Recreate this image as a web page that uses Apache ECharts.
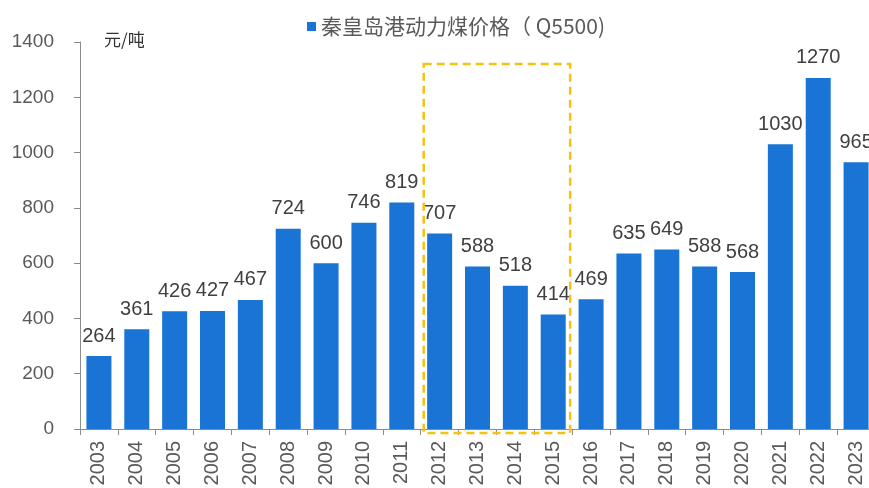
<!DOCTYPE html>
<html>
<head>
<meta charset="utf-8">
<script src="https://cdn.jsdelivr.net/npm/echarts@6/dist/echarts.min.js"></script>
<style>
  html, body { margin: 0; padding: 0; background: #fff; }
  #chart { width: 869px; height: 488px; }
</style>
</head>
<body>
<div id="chart"></div>
<script>
// 秦皇岛港动力煤年度价格（Q5500），单位：元/吨
const years = ['2003', '2004', '2005', '2006', '2007', '2008', '2009', '2010', '2011', '2012', '2013',
  '2014', '2015', '2016', '2017', '2018', '2019', '2020', '2021', '2022', '2023'];
const prices = [264, 361, 426, 427, 467, 724, 600, 746, 819, 707, 588,
  518, 414, 469, 635, 649, 588, 568, 1030, 1270, 965];
const yTicks = [0, 200, 400, 600, 800, 1000, 1200, 1400];
const seriesName = '秦皇岛港动力煤价格（ Q5500)';
const unitLabel = '元/吨';
// 虚线框标注的年份区间
const highlightRange = ['2012', '2015'];
const highlightTop = 1320;

const chart = echarts.init(document.getElementById('chart'), null, { renderer: 'canvas' });

const axisColor = '#8c8c8c';
const labelColor = '#595959';

chart.setOption({
  animation: false,
  backgroundColor: '#fff',
  // 绘图区略超出画布右侧，最后一根柱子被截断
  grid: { left: 80, width: 795, top: 42, bottom: 59, containLabel: false, outerBoundsMode: 'none' },
  legend: {
    data: [seriesName],
    left: 302,
    top: 11,
    icon: 'rect',
    itemWidth: 9,
    itemHeight: 9,
    textStyle: { fontFamily: 'Noto Sans CJK SC', fontSize: 21, color: labelColor }
  },
  xAxis: {
    type: 'category',
    data: years,
    axisLine: { lineStyle: { color: axisColor, width: 1 } },
    axisTick: { show: true, length: 6, lineStyle: { color: axisColor } },
    axisLabel: {
      rotate: 90,
      interval: 0,
      margin: 12,
      fontFamily: 'Liberation Sans',
      fontSize: 20,
      color: labelColor
    }
  },
  yAxis: {
    type: 'value',
    min: yTicks[0],
    max: yTicks[yTicks.length - 1],
    interval: yTicks[1] - yTicks[0],
    splitLine: { show: false },
    axisLine: { show: true, lineStyle: { color: axisColor, width: 1 } },
    axisTick: { show: true, length: 6, lineStyle: { color: axisColor } },
    axisLabel: {
      margin: 26,
      formatter: v => String(v),
      fontFamily: 'Liberation Sans',
      fontSize: 19,
      color: labelColor
    }
  },
  series: [{
    name: seriesName,
    type: 'bar',
    data: prices,
    barWidth: 25,
    itemStyle: { color: '#1a74d5' },
    label: {
      show: true,
      position: 'top',
      distance: 10,
      fontFamily: 'Liberation Sans',
      fontSize: 20,
      color: '#404040'
    }
  }]
});

// 单位文字与虚线框按坐标轴换算位置
function drawOverlay() {
  const x0 = chart.convertToPixel({ xAxisIndex: 0 }, highlightRange[0]);
  const x1 = chart.convertToPixel({ xAxisIndex: 0 }, highlightRange[1]);
  const step = chart.convertToPixel({ xAxisIndex: 0 }, years[1]) - chart.convertToPixel({ xAxisIndex: 0 }, years[0]);
  const yTop = chart.convertToPixel({ yAxisIndex: 0 }, highlightTop);
  const yBase = chart.convertToPixel({ yAxisIndex: 0 }, 0);
  const yMax = chart.convertToPixel({ yAxisIndex: 0 }, yTicks[yTicks.length - 1]);
  const xAxisLeft = chart.convertToPixel({ xAxisIndex: 0 }, years[0]) - step / 2;
  const left = x0 - step / 2 + 3;
  const right = x1 + step / 2 - 2;
  chart.setOption({
    graphic: [
      {
        type: 'rect',
        shape: { x: left, y: yTop, width: right - left, height: yBase + 4 - yTop },
        style: { fill: 'none', stroke: '#f5c211', lineWidth: 2.5, lineDash: [8, 5] },
        z: 10
      },
      {
        type: 'text',
        x: xAxisLeft + 24,
        y: yMax - 2,
        style: {
          text: unitLabel,
          fontFamily: 'Noto Sans CJK SC',
          fontSize: 17,
          fill: '#333',
          textVerticalAlign: 'middle'
        },
        z: 10
      }
    ]
  });
}
drawOverlay();
</script>
</body>
</html>
